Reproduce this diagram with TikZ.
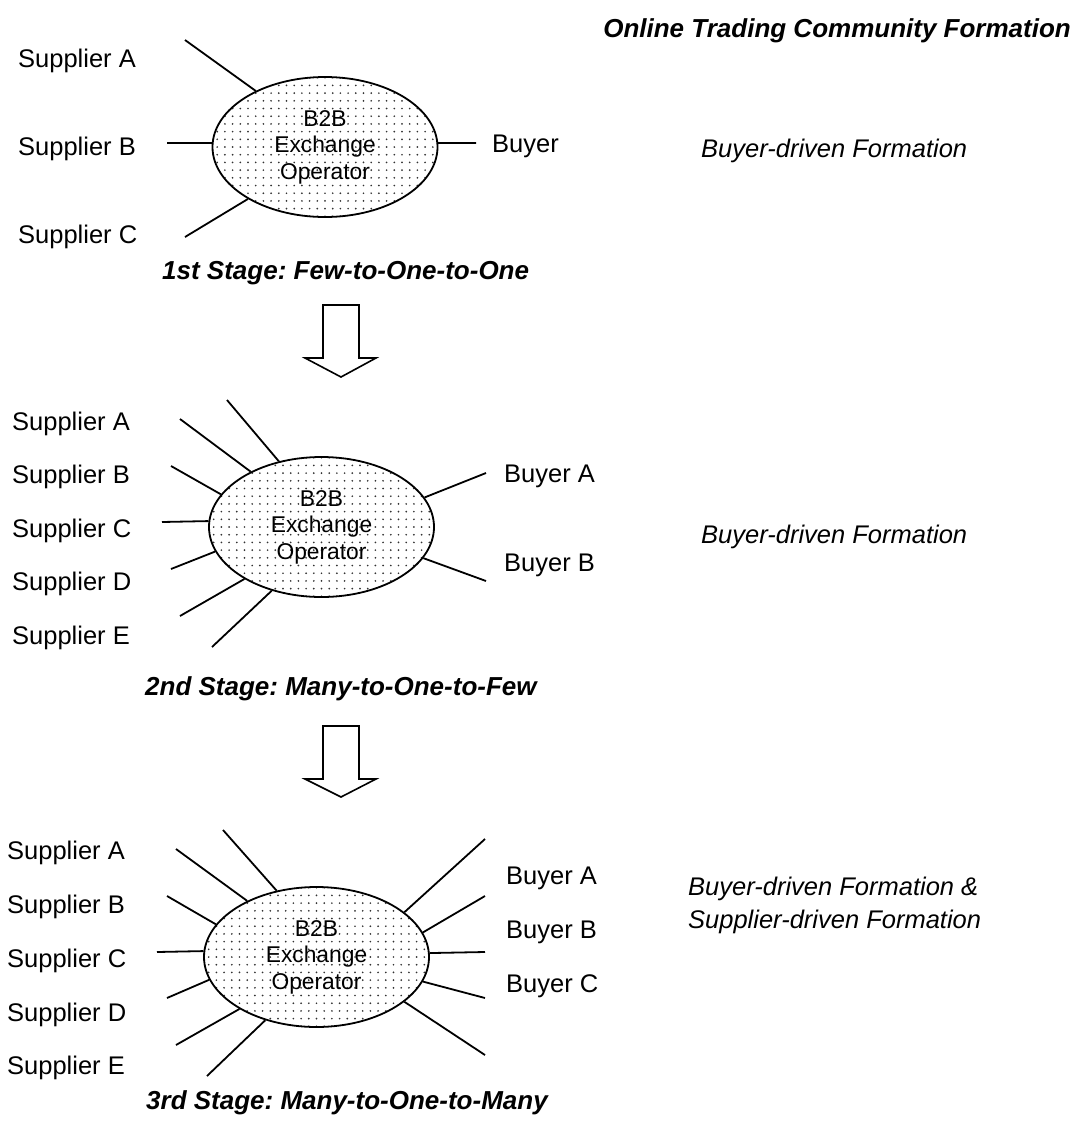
\documentclass[tikz,border=0pt]{standalone}
\usepackage{fontspec}
\setmainfont{Liberation Sans}
\usetikzlibrary{shapes.geometric}
\frenchspacing
\newcommand{\pdots}[2]{%
  \begin{scope}
    \clip (#1,#2) ellipse [x radius=112.5, y radius=70];
    \foreach \i in {-15,...,15}{%
      \foreach \j in {-10,...,10}{%
        \fill[black!80] ({#1+\i*7.7},{#2+\j*7.7}) circle[radius=0.95];
      }%
    }
  \end{scope}}
\begin{document}
\begin{tikzpicture}[x=1pt,y=-1pt,
  lbl/.style={anchor=base west, inner sep=0pt, font=\fontsize{25.5}{30}\selectfont},
  ttl/.style={anchor=base west, inner sep=0pt, font=\fontsize{26}{30}\selectfont\bfseries\itshape},
  side/.style={anchor=base west, inner sep=0pt, align=left, font=\fontsize{25.5}{32.5}\selectfont\itshape},
  exch/.style={ellipse, draw, line width=1.8pt, minimum width=225pt, minimum height=140pt,
    inner sep=0pt, align=center, font=\fontsize{22.8}{26.5}\selectfont},
  conn/.style={line width=1.8pt},
  blockarrow/.style={draw, line width=1.6pt, line join=miter, fill=white}]
\useasboundingbox (0,0) rectangle (1077,1136);

% title
\node[ttl, anchor=base east] (title) at (1071,37) {Online Trading Community Formation};

% ---------- Stage 1 ----------
\pdots{325}{147}
\node[exch] (e1) at (325,147) {B2B\\Exchange\\Operator};
\node[lbl] (s1A) at (18,67) {Supplier A};
\node[lbl] (s1B) at (18,155) {Supplier B};
\node[lbl] (s1C) at (18,243) {Supplier C};
\node[lbl] (b1) at (492,152) {Buyer};
\coordinate (p1A) at (185,40);
\coordinate (p1B) at (167,143);
\coordinate (p1C) at (185,237);
\coordinate (p1b) at (476,143);
\draw[conn] (p1A) -- (e1.141);
\draw[conn] (p1B) -- (e1.178);
\draw[conn] (p1C) -- (e1.214.7);
\draw[conn] (p1b) -- (e1.2);
\node[side] (f1) at (701,157) {Buyer-driven Formation};
\node[ttl] (st1) at (162,279) {1st Stage: Few-to-One-to-One};

\draw[blockarrow] (323,305) -- (359,305) -- (359,358) -- (376,358) -- (341,377) -- (305,358) -- (323,358) -- cycle;

% ---------- Stage 2 ----------
\pdots{321.5}{527}
\node[exch] (e2) at (321.5,527) {B2B\\Exchange\\Operator};
\node[lbl] (s2A) at (12,430) {Supplier A};
\node[lbl] (s2B) at (12,483) {Supplier B};
\node[lbl] (s2C) at (12,537) {Supplier C};
\node[lbl] (s2D) at (12,590) {Supplier D};
\node[lbl] (s2E) at (12,644) {Supplier E};
\node[lbl] (b2A) at (504,482) {Buyer A};
\node[lbl] (b2B) at (504,571) {Buyer B};
\coordinate (p2a) at (227,400);
\coordinate (p2b) at (180,419);
\coordinate (p2c) at (171,466);
\coordinate (p2d) at (162,522);
\coordinate (p2e) at (171,569);
\coordinate (p2f) at (180,616);
\coordinate (p2g) at (212,647);
\coordinate (p2h) at (486,473);
\coordinate (p2i) at (486,581);
\draw[conn] (p2a) -- (e2.123.4);
\draw[conn] (p2b) -- (e2.142);
\draw[conn] (p2c) -- (e2.162.7);
\draw[conn] (p2d) -- (e2.177.5);
\draw[conn] (p2e) -- (e2.193.1);
\draw[conn] (p2f) -- (e2.214.7);
\draw[conn] (p2g) -- (e2.232.3);
\draw[conn] (p2h) -- (e2.16.5);
\draw[conn] (p2i) -- (e2.343.5);
\node[side] (f2) at (701,543) {Buyer-driven Formation};
\node[ttl] (st2) at (145,695) {2nd Stage: Many-to-One-to-Few};

\draw[blockarrow] (323,726) -- (359,726) -- (359,779) -- (376,779) -- (341,797) -- (305,779) -- (323,779) -- cycle;

% ---------- Stage 3 ----------
\pdots{316.5}{957}
\node[exch] (e3) at (316.5,957) {B2B\\Exchange\\Operator};
\node[lbl] (s3A) at (7,859) {Supplier A};
\node[lbl] (s3B) at (7,913) {Supplier B};
\node[lbl] (s3C) at (7,967) {Supplier C};
\node[lbl] (s3D) at (7,1021) {Supplier D};
\node[lbl] (s3E) at (7,1074) {Supplier E};
\node[lbl] (b3A) at (506,884) {Buyer A};
\node[lbl] (b3B) at (506,938) {Buyer B};
\node[lbl] (b3C) at (506,992) {Buyer C};
\coordinate (p3a) at (223,830);
\coordinate (p3b) at (176,849);
\coordinate (p3c) at (167,896);
\coordinate (p3d) at (157,952);
\coordinate (p3e) at (167,998);
\coordinate (p3f) at (176,1045);
\coordinate (p3g) at (207,1076);
\coordinate (p3h) at (485,839);
\coordinate (p3i) at (485,896);
\coordinate (p3j) at (485,952);
\coordinate (p3k) at (485,998);
\coordinate (p3l) at (485,1055);
\draw[conn] (p3a) -- (e3.121.8);
\draw[conn] (p3b) -- (e3.141.1);
\draw[conn] (p3c) -- (e3.162);
\draw[conn] (p3d) -- (e3.177.5);
\draw[conn] (p3e) -- (e3.192.8);
\draw[conn] (p3f) -- (e3.214.6);
\draw[conn] (p3g) -- (e3.231.8);
\draw[conn] (p3h) -- (e3.27.5);
\draw[conn] (p3i) -- (e3.13.7);
\draw[conn] (p3j) -- (e3.2.5);
\draw[conn] (p3k) -- (e3.347.3);
\draw[conn] (p3l) -- (e3.333);
\node[side] (f3) at (688,928) {Buyer-driven Formation \&\\Supplier-driven Formation};
\node[ttl] (st3) at (146,1109) {3rd Stage: Many-to-One-to-Many};
\end{tikzpicture}
\end{document}
